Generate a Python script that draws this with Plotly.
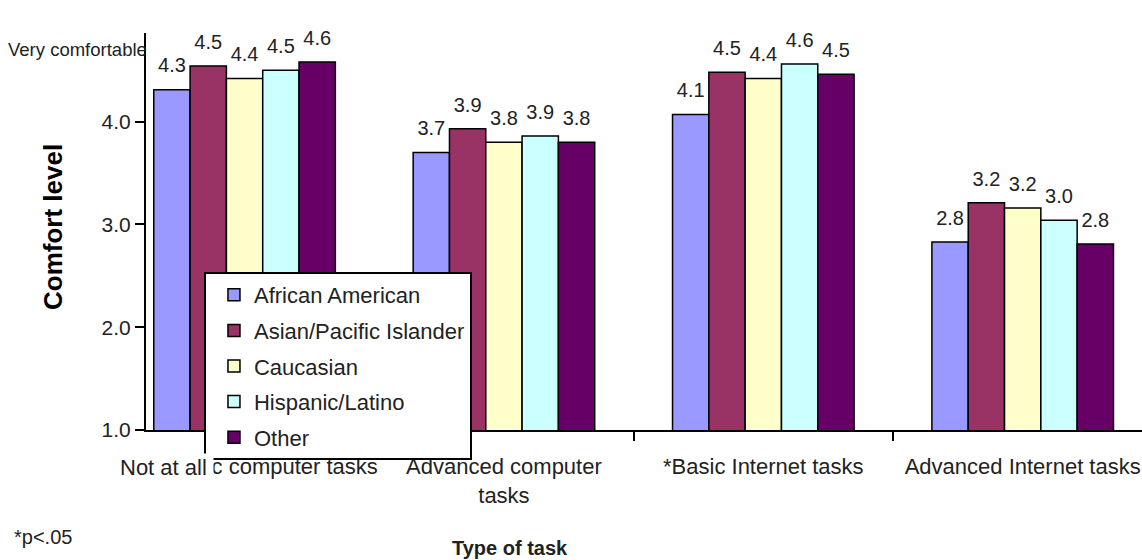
import plotly.graph_objects as go

tasks = ["Basic computer", "Advanced computer", "Basic Internet", "Advanced Internet"]
task_labels = ["&nbsp;" * 8 + "*Basic computer tasks", "Advanced computer<br>tasks",
               "*Basic Internet tasks", "Advanced Internet tasks"]
groups = ["African American", "Asian/Pacific Islander", "Caucasian",
          "Hispanic/Latino", "Other"]
african_american = [4.31, 3.70, 4.07, 2.83]
asian_pacific = [4.54, 3.93, 4.48, 3.21]
caucasian = [4.42, 3.80, 4.42, 3.16]
hispanic_latino = [4.50, 3.86, 4.56, 3.04]
other = [4.58, 3.80, 4.46, 2.81]
values = [african_american, asian_pacific, caucasian, hispanic_latino, other]
colors = ["#9999FF", "#993366", "#FFFFCC", "#CCFFFF", "#660066"]

FONT = "Liberation Sans, Arial, sans-serif"
INK = "#222"

fig = go.Figure()
for i, (name, vals, col) in enumerate(zip(groups, values, colors)):
    fig.add_trace(go.Bar(
        x=tasks, y=vals, name=name, legendgroup=name, offsetgroup=str(i),
        marker=dict(color=col, line=dict(color="black", width=1.5)),
    ))
# value labels, floated a little higher above the bars (Excel style)
for i, (name, vals) in enumerate(zip(groups, values)):
    fig.add_trace(go.Scatter(
        x=tasks, y=vals, mode="markers+text", offsetgroup=str(i),
        marker=dict(size=18, opacity=0), showlegend=False, hoverinfo="skip",
        text=[f"{v:.1f}" for v in vals], textposition="top center",
        textfont=dict(size=20, color=INK), cliponaxis=False,
    ))

# plot area in page pixels
W, H = 1142, 560
L, R, T, B = 146, 0, 33, 130
pw, ph = W - L - R, H - T - B


def px(x, y):
    return (x - L) / pw, (H - B - y) / ph


anns = []
for txt, xx, yy, size, anchor in [
    ("Very comfortable", 6, 49, 18.5, "left"),
    ("*p<.05", 12, 537, 20, "left"),
    ("<b>Type of task</b>", 510, 548, 20, "center"),
]:
    ax, ay = px(xx, yy)
    anns.append(dict(text=txt, x=ax, y=ay, xref="paper", yref="paper",
                     xanchor=anchor, yanchor="middle", showarrow=False,
                     font=dict(size=size, color=INK)))
# "Not at all" box sits over the start of the first category label
ax, ay = px(118, 467)
anns.append(dict(text="Not at all", x=ax, y=ay, xref="paper", yref="paper",
                 xanchor="left", yanchor="middle", showarrow=False,
                 width=92, align="left", bgcolor="white",
                 font=dict(size=22, color=INK)))
ax, ay = px(53, 227)
anns.append(dict(text="<b>Comfort level</b>", x=ax, y=ay, xref="paper",
                 yref="paper", xanchor="center", yanchor="middle",
                 textangle=-90, showarrow=False,
                 font=dict(size=26, color="black")))

fig.update_layout(
    width=W, height=H,
    margin=dict(l=L, r=R, t=T, b=B),
    paper_bgcolor="white", plot_bgcolor="white",
    font=dict(family=FONT, size=21, color=INK),
    barmode="group", bargap=0.3, bargroupgap=0,
    scattermode="group", scattergap=0.3,
    showlegend=True,
    legend=dict(x=0.0582, y=0.398, xanchor="left", yanchor="top",
                bgcolor="white", bordercolor="black", borderwidth=2,
                font=dict(size=22, color=INK), tracegroupgap=4,
                indentation=8, itemclick=False),
    annotations=anns,
)

fig.update_yaxes(range=[1, 4.862], tick0=1, dtick=1, tickformat=".1f",
                 showline=True, linecolor="black", linewidth=2,
                 ticks="outside", ticklen=9, tickwidth=2, tickcolor="black",
                 showgrid=False, zeroline=False, tickfont=dict(size=21),
                 automargin=False)
fig.update_xaxes(range=[-0.38, 3.46], showline=True, linecolor="black",
                 linewidth=2, ticks="outside", tickson="boundaries",
                 ticklen=9, tickwidth=2, tickcolor="black", showgrid=False,
                 tickvals=tasks, ticktext=task_labels, ticklabelstandoff=16,
                 tickangle=0, tickfont=dict(size=22), automargin=False)

fig.write_html("out.html", config={"displayModeBar": False},
               post_script="document.body.style.margin='0';")
